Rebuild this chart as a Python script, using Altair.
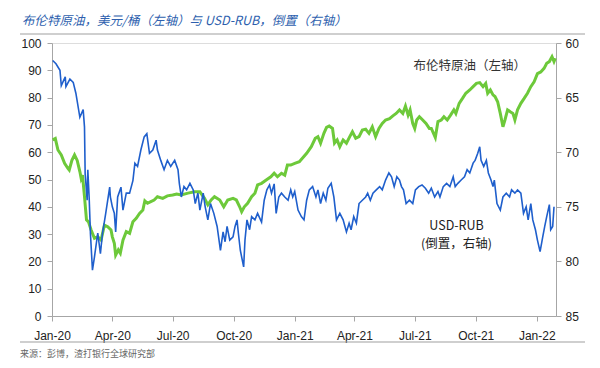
import altair as alt
import pandas as pd

# ---------------- data ----------------
brent_dates = [
    "2020-01-02", "2020-01-06", "2020-01-10", "2020-01-15", "2020-01-20", "2020-01-25", "2020-01-27", "2020-01-31",
    "2020-02-04", "2020-02-08", "2020-02-12", "2020-02-14", "2020-02-16", "2020-02-19", "2020-02-22", "2020-02-25",
    "2020-02-29", "2020-03-05", "2020-03-10", "2020-03-15", "2020-03-20", "2020-03-25", "2020-03-30", "2020-04-01",
    "2020-04-04", "2020-04-06", "2020-04-10", "2020-04-13", "2020-04-17", "2020-04-22", "2020-04-27", "2020-05-02",
    "2020-05-07", "2020-05-12", "2020-05-17", "2020-05-20", "2020-05-24", "2020-05-29", "2020-06-03", "2020-06-08",
    "2020-06-16", "2020-06-23", "2020-07-01", "2020-07-07", "2020-07-14", "2020-07-24", "2020-08-03", "2020-08-11",
    "2020-08-18", "2020-08-23", "2020-08-28", "2020-09-02", "2020-09-10", "2020-09-16", "2020-09-22", "2020-09-30",
    "2020-10-05", "2020-10-10", "2020-10-13", "2020-10-17", "2020-10-22", "2020-10-28", "2020-11-02", "2020-11-06",
    "2020-11-12", "2020-11-19", "2020-11-26", "2020-12-01", "2020-12-06", "2020-12-12", "2020-12-17", "2020-12-21",
    "2020-12-26", "2021-01-01", "2021-01-08", "2021-01-19", "2021-01-26", "2021-02-01", "2021-02-05", "2021-02-09",
    "2021-02-14", "2021-02-18", "2021-02-22", "2021-02-27", "2021-03-02", "2021-03-06", "2021-03-10", "2021-03-15",
    "2021-03-20", "2021-03-25", "2021-03-29", "2021-04-03", "2021-04-08", "2021-04-13", "2021-04-18", "2021-04-23",
    "2021-04-28", "2021-05-03", "2021-05-08", "2021-05-13", "2021-05-18", "2021-05-24", "2021-05-29", "2021-06-03",
    "2021-06-08", "2021-06-13", "2021-06-17", "2021-06-21", "2021-06-24", "2021-06-28", "2021-07-01", "2021-07-04",
    "2021-07-08", "2021-07-13", "2021-07-18", "2021-07-23", "2021-07-26", "2021-08-01", "2021-08-05", "2021-08-10",
    "2021-08-14", "2021-08-19", "2021-08-24", "2021-08-29", "2021-09-01", "2021-09-06", "2021-09-11", "2021-09-16",
    "2021-09-22", "2021-09-27", "2021-10-02", "2021-10-07", "2021-10-12", "2021-10-16", "2021-10-19", "2021-10-23",
    "2021-10-27", "2021-10-30", "2021-11-03", "2021-11-07", "2021-11-11", "2021-11-14", "2021-11-18", "2021-11-22",
    "2021-11-26", "2021-11-29", "2021-12-03", "2021-12-08", "2021-12-13", "2021-12-18", "2021-12-23", "2021-12-28",
    "2022-01-02", "2022-01-07", "2022-01-12", "2022-01-16", "2022-01-20", "2022-01-24", "2022-01-27", "2022-01-29",
]
brent_values = [
    64.5, 65.0, 60.8, 59.0, 55.9, 54.1, 53.5, 57.0,
    59.0, 57.0, 52.9, 50.4, 51.6, 43.7, 35.2, 34.5,
    31.5, 28.5, 29.0, 27.8, 33.3, 32.7, 31.5, 29.0,
    26.6, 22.3, 24.2, 23.0, 27.8, 30.9, 30.3, 34.5,
    35.8, 37.6, 38.8, 42.2, 41.3, 41.9, 42.5, 43.7,
    43.1, 44.0, 44.3, 44.7, 44.3, 45.0, 45.5, 45.5,
    43.1, 40.7, 42.5, 43.7, 42.5, 40.0, 42.5, 43.1,
    42.5, 40.0, 38.2, 40.0, 41.3, 43.7, 45.0, 48.0,
    48.6, 49.8, 51.0, 52.3, 51.0, 52.3, 51.6, 55.3,
    55.3, 55.9, 56.5, 59.6, 62.0, 65.1, 65.7, 63.3,
    66.9, 69.1, 69.6, 68.7, 63.3, 64.5, 62.0, 64.5,
    63.3, 65.7, 67.5, 65.1, 65.7, 68.1, 68.4, 66.9,
    69.3, 65.7, 68.7, 70.5, 71.8, 72.3, 73.3, 74.2,
    75.5, 74.2, 76.9, 73.6, 75.5, 70.5, 68.7, 71.8,
    73.0, 71.8, 70.5, 68.7, 68.7, 65.4, 71.2, 71.8,
    73.0, 71.8, 73.6, 75.5, 74.2, 77.9, 79.7, 81.6,
    82.8, 84.0, 85.2, 85.5, 84.0, 85.2, 81.6, 82.8,
    81.0, 80.4, 78.5, 74.2, 69.3, 71.8, 75.5, 74.8,
    74.2, 71.8, 75.5, 77.9, 79.7, 81.6, 84.0, 85.8,
    88.8, 89.4, 90.7, 92.6, 93.2, 95.0, 93.2, 94.4,
]

rub_dates = [
    "2020-01-02", "2020-01-07", "2020-01-13", "2020-01-15", "2020-01-21", "2020-01-22", "2020-01-28", "2020-02-02",
    "2020-02-06", "2020-02-12", "2020-02-17", "2020-02-19", "2020-02-20", "2020-02-23", "2020-02-24", "2020-02-26",
    "2020-02-28", "2020-03-02", "2020-03-05", "2020-03-10", "2020-03-14", "2020-03-17", "2020-03-22", "2020-03-28",
    "2020-03-29", "2020-04-01", "2020-04-04", "2020-04-06", "2020-04-09", "2020-04-14", "2020-04-17", "2020-04-22",
    "2020-04-27", "2020-05-02", "2020-05-05", "2020-05-09", "2020-05-14", "2020-05-19", "2020-05-23", "2020-05-27",
    "2020-06-01", "2020-06-06", "2020-06-08", "2020-06-13", "2020-06-18", "2020-06-23", "2020-06-28", "2020-07-04",
    "2020-07-09", "2020-07-11", "2020-07-14", "2020-07-18", "2020-07-22", "2020-07-27", "2020-08-01", "2020-08-04",
    "2020-08-08", "2020-08-11", "2020-08-16", "2020-08-19", "2020-08-23", "2020-08-27", "2020-09-01", "2020-09-06",
    "2020-09-11", "2020-09-15", "2020-09-18", "2020-09-21", "2020-09-25", "2020-09-30", "2020-10-03", "2020-10-06",
    "2020-10-08", "2020-10-11", "2020-10-16", "2020-10-18", "2020-10-21", "2020-10-25", "2020-10-28", "2020-11-02",
    "2020-11-06", "2020-11-12", "2020-11-16", "2020-11-20", "2020-11-24", "2020-11-27", "2020-12-01", "2020-12-04",
    "2020-12-08", "2020-12-12", "2020-12-17", "2020-12-22", "2020-12-26", "2020-12-29", "2021-01-01", "2021-01-06",
    "2021-01-11", "2021-01-15", "2021-01-19", "2021-01-23", "2021-01-28", "2021-02-02", "2021-02-05", "2021-02-09",
    "2021-02-13", "2021-02-17", "2021-02-20", "2021-02-25", "2021-03-01", "2021-03-05", "2021-03-10", "2021-03-15",
    "2021-03-20", "2021-03-24", "2021-03-27", "2021-03-31", "2021-04-04", "2021-04-08", "2021-04-13", "2021-04-18",
    "2021-04-21", "2021-04-25", "2021-04-29", "2021-05-04", "2021-05-09", "2021-05-13", "2021-05-18", "2021-05-23",
    "2021-05-27", "2021-05-31", "2021-06-04", "2021-06-08", "2021-06-11", "2021-06-14", "2021-06-18", "2021-06-23",
    "2021-06-28", "2021-07-02", "2021-07-07", "2021-07-12", "2021-07-17", "2021-07-22", "2021-07-26", "2021-07-31",
    "2021-08-05", "2021-08-08", "2021-08-13", "2021-08-18", "2021-08-23", "2021-08-28", "2021-08-31", "2021-09-04",
    "2021-09-09", "2021-09-14", "2021-09-18", "2021-09-22", "2021-09-27", "2021-09-30", "2021-10-04", "2021-10-07",
    "2021-10-09", "2021-10-13", "2021-10-17", "2021-10-20", "2021-10-24", "2021-10-27", "2021-10-29", "2021-11-02",
    "2021-11-07", "2021-11-11", "2021-11-16", "2021-11-21", "2021-11-24", "2021-11-29", "2021-12-03", "2021-12-08",
    "2021-12-12", "2021-12-16", "2021-12-19", "2021-12-23", "2021-12-26", "2021-12-30", "2022-01-02", "2022-01-06",
    "2022-01-10", "2022-01-13", "2022-01-16", "2022-01-20", "2022-01-22", "2022-01-25", "2022-01-27",
]
rub_values = [
    61.6, 61.9, 62.5, 63.9, 63.1, 64.0, 63.3, 63.6,
    64.6, 66.8, 66.1, 67.7, 72.0, 74.4, 71.6, 74.1,
    77.5, 80.8, 79.6, 77.4, 79.3, 77.5, 75.6, 73.2,
    74.1, 75.0, 75.6, 77.3, 74.1, 73.2, 75.3, 73.75,
    73.75, 72.6, 71.0, 71.3, 69.8, 68.6, 68.3, 70.1,
    69.8, 68.9, 69.8, 70.75, 71.6, 70.75, 71.3, 70.75,
    71.6, 72.85, 74.1, 73.15, 73.45, 72.85, 73.45, 74.7,
    73.75, 75.3, 73.75, 75.0, 76.2, 74.7, 75.6, 76.8,
    79.0, 77.3, 78.2, 76.8, 78.05, 77.75, 76.8, 76.2,
    77.4, 79.0, 80.5, 78.05, 76.2, 77.1, 75.9, 76.2,
    75.6, 76.4, 74.4, 73.45, 73.0, 73.75, 72.9, 75.6,
    74.1, 73.75, 74.1, 74.4, 73.45, 74.1, 73.6, 75.3,
    75.9, 76.2, 74.4, 73.45, 73.15, 74.1, 73.45, 74.7,
    73.75, 74.4, 73.3, 72.85, 74.1, 76.2, 75.6, 76.2,
    77.3, 76.5, 77.1, 75.9, 76.5, 74.7, 74.4, 74.1,
    73.75, 74.4, 73.75, 73.45, 73.15, 73.45, 72.55, 71.9,
    72.25, 73.15, 72.25, 72.55, 73.15, 73.45, 74.7, 74.4,
    74.7, 73.45, 73.15, 73.0, 73.3, 73.75, 73.3, 74.1,
    73.6, 74.1, 73.15, 72.85, 73.15, 72.25, 73.15, 72.85,
    72.55, 72.25, 71.6, 71.9, 71.0, 70.75, 70.1, 69.5,
    70.75, 71.3, 70.75, 71.9, 72.55, 73.15, 72.55, 74.7,
    75.3, 74.1, 73.75, 74.1, 73.45, 73.75, 73.45, 73.75,
    75.6, 75.0, 76.2, 74.7, 76.2, 77.1, 78.05, 79.1,
    77.75, 76.8, 75.9, 74.8, 77.1, 76.8, 75.0,
]

left_ticks = [0, 10, 20, 30, 40, 50, 60, 70, 80, 90, 100]
right_ticks = [60, 65, 70, 75, 80, 85]
x_tick_months = [(2020, 1), (2020, 4), (2020, 7), (2020, 10), (2021, 1),
                 (2021, 4), (2021, 7), (2021, 10), (2022, 1)]

title_text = "布伦特原油，美元/桶（左轴）与 USD-RUB，倒置（右轴）"
source_text = "来源：彭博，渣打银行全球研究部"
brent_label = ["布伦特原油（左轴）"]
brent_label_date = ["2021-09-22"]
brent_label_value = [91.6]
rub_label = ["USD-RUB\n(倒置，右轴)"]
rub_label_date = ["2021-09-02"]
rub_label_value = [76.8]

# ---------------- build ----------------
brent_df = pd.DataFrame({"date": brent_dates, "value": brent_values})
rub_df = pd.DataFrame({"date": rub_dates, "value": rub_values})
brent_lab_df = pd.DataFrame({"date": brent_label_date, "value": brent_label_value, "t": brent_label})
rub_lab_df = pd.DataFrame({"date": rub_label_date, "value": rub_label_value, "t": rub_label})

W, H = 504, 273
FONT = "Liberation Sans"
CJK = "Noto Sans CJK SC"
AX_GRAY = "#A6A6A6"
GREEN = "#6DC93A"
BLUE = "#1F5FCC"

x_enc = alt.X(
    "date:T",
    scale=alt.Scale(domain=["2020-01-01", "2022-01-30"], nice=False),
    axis=alt.Axis(
        title=None,
        values=[alt.DateTime(year=y, month=m, date=1) for y, m in x_tick_months],
        format="%b-%y",
        grid=False,
        domainColor=AX_GRAY,
        tickColor=AX_GRAY,
        tickSize=5,
        labelPadding=9,
        labelFont=FONT,
        labelFontSize=12,
        labelColor="#222222",
        labelFlush=False,
        labelOverlap=False,
    ),
)

y_left = alt.Y(
    "value:Q",
    scale=alt.Scale(domain=[0, 100], nice=False, zero=False),
    axis=alt.Axis(
        title=None,
        values=left_ticks,
        tickCount=11,
        orient="left",
        grid=False,
        domainColor=AX_GRAY,
        tickColor=AX_GRAY,
        tickSize=5,
        labelPadding=6,
        labelFont=FONT,
        labelFontSize=12,
        labelColor="#222222",
        labelOverlap=False,
        labelFlush=False,
    ),
)

y_right = alt.Y(
    "value:Q",
    scale=alt.Scale(domain=[60, 85], nice=False, zero=False, reverse=True),
    axis=alt.Axis(
        title=None,
        values=right_ticks,
        orient="right",
        grid=False,
        domainColor=AX_GRAY,
        tickColor=AX_GRAY,
        tickSize=5,
        labelPadding=4,
        labelFont=FONT,
        labelFontSize=12,
        labelColor="#222222",
        labelOverlap=False,
        labelFlush=False,
    ),
)

brent_line = alt.Chart(brent_df).mark_line(color=GREEN, strokeWidth=3, interpolate="linear").encode(
    x=x_enc, y=y_left
)
brent_text = alt.Chart(brent_lab_df).mark_text(
    font=CJK, fontSize=12.5, color="#333333", align="center", baseline="middle"
).encode(x=x_enc, y=y_left, text="t:N")

rub_line = alt.Chart(rub_df).mark_line(color=BLUE, strokeWidth=1.6, interpolate="linear").encode(
    x=x_enc, y=y_right
)
rub_text = alt.Chart(rub_lab_df).mark_text(
    font=CJK, fontSize=12.5, color="#222222", align="center", baseline="middle",
    lineBreak="\n", lineHeight=18
).encode(x=x_enc, y=y_right, text="t:N")

left_layer = alt.layer(brent_line, brent_text)
right_layer = alt.layer(rub_line, rub_text)

deco_df = pd.DataFrame({"k": [0]})
title_mark = alt.Chart(deco_df).mark_text(
    font=CJK, fontSize=12.5, fontStyle="italic", color="#2E5FAE", align="left", baseline="middle"
).encode(x=alt.value(-30), y=alt.value(-22), text=alt.value(title_text))
source_mark = alt.Chart(deco_df).mark_text(
    font=CJK, fontSize=9, color="#666666", align="left", baseline="middle"
).encode(x=alt.value(-32), y=alt.value(311), text=alt.value(source_text))
top_rule = alt.Chart(deco_df).mark_rule(color="#A0A0A0", strokeWidth=1.2).encode(
    x=alt.value(-32), x2=alt.value(533), y=alt.value(-9)
)
bottom_rule = alt.Chart(deco_df).mark_rule(color="#A0A0A0", strokeWidth=1.2).encode(
    x=alt.value(-32), x2=alt.value(533), y=alt.value(299)
)

chart = alt.layer(
    left_layer, right_layer, title_mark, source_mark, top_rule, bottom_rule
).resolve_scale(y="independent").properties(
    width=W,
    height=H,
    autosize=alt.AutoSizeParams(type="none"),
    padding={"left": 44, "top": 35, "right": 36, "bottom": 44},
).configure_view(stroke=None).configure(background="white")

chart.save("out.html", embed_options={"renderer": "svg", "actions": False})
